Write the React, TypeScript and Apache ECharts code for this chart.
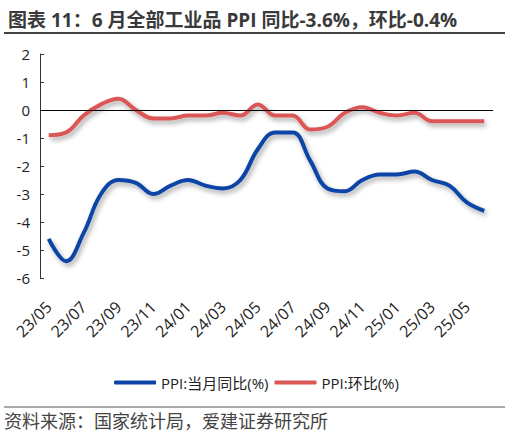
import { useEffect, useRef } from 'react';
import * as echarts from 'echarts';

const months = [
  '23/05', '23/06', '23/07', '23/08', '23/09', '23/10', '23/11', '23/12',
  '24/01', '24/02', '24/03', '24/04', '24/05', '24/06', '24/07', '24/08',
  '24/09', '24/10', '24/11', '24/12', '25/01', '25/02', '25/03', '25/04',
  '25/05', '25/06',
];
const ppiYoy = [
  -4.6, -5.4, -4.4, -3.0, -2.5, -2.6, -3.0, -2.7, -2.5, -2.7, -2.8, -2.5,
  -1.4, -0.8, -0.8, -1.8, -2.8, -2.9, -2.5, -2.3, -2.3, -2.2, -2.5, -2.7,
  -3.3, -3.6,
];
const ppiMom = [
  -0.9, -0.8, -0.2, 0.2, 0.4, 0.0, -0.3, -0.3, -0.2, -0.2, -0.1, -0.2,
  0.2, -0.2, -0.2, -0.7, -0.6, -0.1, 0.1, -0.1, -0.2, -0.1, -0.4, -0.4,
  -0.4, -0.4,
];
const seriesNames = ['PPI:当月同比(%)', 'PPI:环比(%)'];

const FONT = '"Open Sans", "Noto Sans CJK SC", sans-serif';

const App = () => {
  const chartRef = useRef<HTMLDivElement>(null);

  useEffect(() => {
    if (!chartRef.current) return;
    document.body.style.margin = '0';
    const chart = echarts.init(chartRef.current, null, { renderer: 'svg' });

    const lineSeries = (name: string, data: number[], color: string) => ({
      name,
      type: 'line',
      data,
      smooth: 0.4,
      symbol: 'none',
      lineStyle: {
        width: 4,
        color,
        shadowColor: 'rgba(0,0,0,0.35)',
        shadowBlur: 5,
        shadowOffsetX: 2,
        shadowOffsetY: 3,
      },
      itemStyle: { color },
    });

    chart.setOption({
      animation: false,
      textStyle: { fontFamily: FONT },
      title: {
        text: '图表 11：6 月全部工业品 PPI 同比-3.6%，环比-0.4%',
        left: 3,
        top: 5,
        textStyle: { fontSize: 19, fontWeight: 'bold', color: '#3a3a3a', fontFamily: FONT },
      },
      graphic: [
        { type: 'line', shape: { x1: 4, y1: 33, x2: 505, y2: 33 }, style: { stroke: '#444', lineWidth: 2 } },
        { type: 'line', shape: { x1: 4, y1: 407, x2: 505, y2: 407 }, style: { stroke: '#555', lineWidth: 1 } },
        {
          type: 'text',
          left: 4,
          top: 412,
          style: { text: '资料来源：国家统计局，爱建证券研究所', fontSize: 18, fill: '#444', fontFamily: FONT },
        },
      ],
      legend: {
        top: 370,
        left: 'center',
        itemWidth: 42,
        itemHeight: 4,
        itemGap: 6,
        icon: 'roundRect',
        textStyle: { fontSize: 15, color: '#222', fontFamily: FONT },
        data: seriesNames,
      },
      grid: { left: 40, right: 20, top: 54, bottom: 160, containLabel: false },
      xAxis: {
        type: 'category',
        data: months,
        boundaryGap: true,
        axisLine: { show: false },
        axisTick: { show: false },
        axisLabel: {
          interval: 1,
          rotate: 45,
          fontSize: 16,
          color: '#222',
          margin: 26,
          fontFamily: FONT,
        },
      },
      yAxis: {
        type: 'value',
        min: -6,
        max: 2,
        interval: 1,
        splitLine: { show: false },
        axisLine: { show: true, lineStyle: { color: '#333', width: 1 } },
        axisTick: { show: true, inside: true, length: 4, lineStyle: { color: '#333' } },
        axisLabel: { fontSize: 15, color: '#222', margin: 10, fontFamily: FONT },
      },
      series: [
        {
          ...lineSeries(seriesNames[0], ppiYoy, '#0B44A6'),
          markLine: {
            silent: true,
            symbol: 'none',
            label: { show: false },
            lineStyle: { color: '#000', width: 1, type: 'solid' },
            data: [{ yAxis: 0 }],
          },
        },
        lineSeries(seriesNames[1], ppiMom, '#DB5656'),
      ],
    });

    return () => chart.dispose();
  }, []);

  return <div ref={chartRef} style={{ width: 513, height: 438 }} />;
};

export default App;
